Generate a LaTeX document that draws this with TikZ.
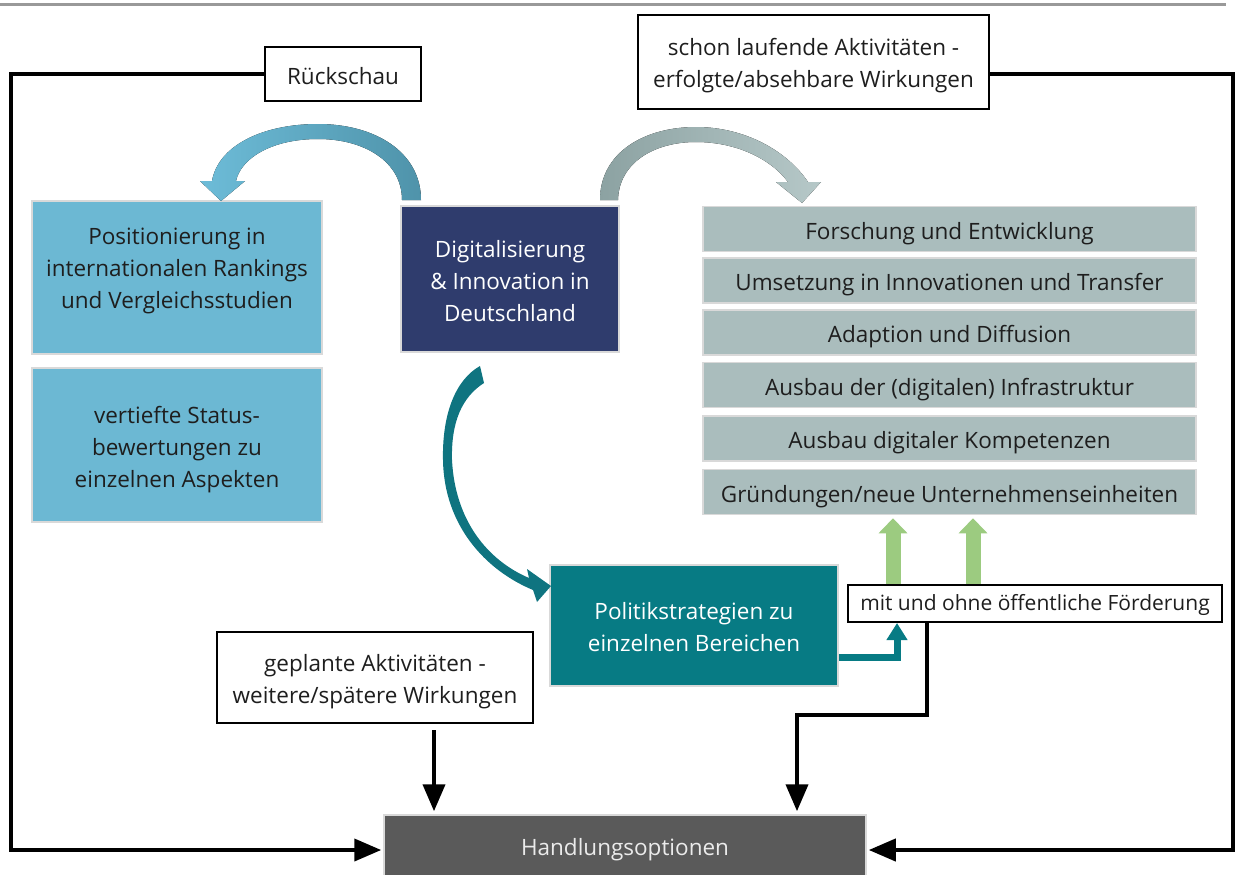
\documentclass[tikz,border=0pt]{standalone}
\usepackage{fontspec}
\setmainfont{Open Sans}
\usetikzlibrary{arrows.meta,calc}

\definecolor{rankblue}{HTML}{6CB8D3}
\definecolor{bandlight}{HTML}{6DBCD8}
\definecolor{banddark}{HTML}{4F93AA}
\definecolor{navy}{HTML}{2F3C6D}
\definecolor{sage}{HTML}{AABDBD}
\definecolor{sagedark}{HTML}{8CA2A2}
\definecolor{sagelight}{HTML}{B6C8C8}
\definecolor{petrol}{HTML}{077B84}
\definecolor{petrolarrow}{HTML}{0F7480}
\definecolor{leafgreen}{HTML}{9CCB80}
\definecolor{slate}{HTML}{5A5A5A}
\definecolor{inkgray}{HTML}{1E1E1E}

% a tall invisible strut for the first text line, to push a text block down
\newcommand{\topstrut}[1]{\rule{0pt}{#1}}

\tikzset{
  txt/.style={font=\fontsize{22.5}{32}\selectfont},
  % taller strut pushes single-line text down a little
  sink/.style={execute at begin node={\rule{0pt}{#1}}},
  % deeper last-line strut pulls the text block up a little
  rise/.style={execute at end node={\rule[-#1]{0pt}{#1}}},
  labelbox/.style={txt, draw=black, line width=2pt, fill=white, inner sep=0pt,
    align=center, text=inkgray},
  panel/.style={txt, inner sep=0pt, align=center, draw=black!15, line width=1.5pt},
  lightpanel/.style={panel, fill=rankblue, text=inkgray,
    minimum width=290pt, minimum height=153pt},
  stage/.style={panel, fill=sage, text=inkgray, sink=26pt,
    minimum width=493pt, minimum height=45pt},
  flow/.style={line width=4pt, -{Triangle[length=27pt,width=22pt]}},
  lift/.style={leafgreen, line width=15pt, -{Triangle[length=15pt,width=28pt]}},
  feed/.style={petrol, line width=7pt, -{Triangle[length=17pt,width=20pt]}},
}

\begin{document}
\begin{tikzpicture}[x=1pt,y=-1pt]
\useasboundingbox (0,0) rectangle (1239,875);
\clip (0,0) rectangle (1239,875);

% header rule
\draw[black!40, line width=3pt] (0,5) -- (1226,5);

% label boxes
\node[labelbox, sink=21pt, minimum width=156pt, minimum height=54pt] (rueck) at (343,74) {Rückschau};
\node[labelbox, minimum width=351pt, minimum height=94pt] (schon) at (813.5,62)
  {\topstrut{25pt}schon laufende Aktivitäten -\\erfolgte/absehbare Wirkungen};
\node[labelbox, minimum width=316pt, minimum height=91pt] (geplant) at (375,677.5)
  {\topstrut{25pt}geplante Aktivitäten -\\weitere/spätere Wirkungen};
\node[labelbox, sink=19pt, font=\fontsize{21}{30}\selectfont, minimum width=374pt, minimum height=37pt]
  (foerder) at (1035,603.5) {mit und ohne öffentliche Förderung};

% left column
\node[lightpanel, rise=19pt] (posit) at (177,277.5)
  {Positionierung in\\internationalen Rankings\\und Vergleichsstudien};
\node[lightpanel, minimum height=154pt] (status) at (177,445)
  {\topstrut{26pt}vertiefte Status-\\bewertungen zu\\einzelnen Aspekten};

% centre
\node[panel, fill=navy, text=white, minimum width=218pt, minimum height=146pt] (digi)
  at (510,279) {\topstrut{21pt}Digitalisierung\\\& Innovation in\\Deutschland};

% right column
\node[stage] (fue) at (949.5,229) {Forschung und Entwicklung};
\node[stage] (transfer) at (949.5,280.5) {Umsetzung in Innovationen und Transfer};
\node[stage] (diffusion) at (949.5,332.5) {Adaption und Diffusion};
\node[stage] (infra) at (949.5,385) {Ausbau der (digitalen) Infrastruktur};
\node[stage] (kompetenz) at (949.5,438.5) {Ausbau digitaler Kompetenzen};
\node[stage] (gruendung) at (949.5,492) {Gründungen/neue Unternehmenseinheiten};

% strategy and options
\node[panel, fill=petrol, text=white, minimum width=288pt, minimum height=121pt] (politik)
  at (694,625.5) {\topstrut{21pt}Politikstrategien zu\\einzelnen Bereichen};
\node[panel, fill=slate, text=black!8, minimum width=482pt, minimum height=70pt] (handl)
  at (625,850) {Handlungsoptionen};

% rails of the outer loop
\coordinate (leftrail) at (11,850);
\coordinate (rightrail) at (1233,850);

% curved arrow: Digitalisierung -> Rueckschau side
\fill[left color=bandlight, middle color=bandlight, right color=banddark]
  (402,200) .. controls (402,162) and (365,139) .. (318,139)
  .. controls (272,139) and (241,158) .. (236,181)
  -- (245,181) -- (221,201) -- (200,181) -- (212,181)
  .. controls (218,146) and (262,124) .. (318,124)
  .. controls (375,124) and (421,152) .. (421,200) -- cycle;

% curved arrow: Digitalisierung -> running activities
\fill[left color=sagedark, right color=sagelight]
  (600,200) .. controls (600,152) and (645,127) .. (696,127)
  .. controls (746,127) and (788,152) .. (808,182)
  -- (821,182) -- (802,203) -- (776,182) -- (788,182)
  .. controls (770,158) and (735,142) .. (696,142)
  .. controls (655,142) and (619,162) .. (618,200) -- cycle;

% curved arrow: Digitalisierung -> Politikstrategien
\fill[petrolarrow]
  (480,366) .. controls (455,380) and (442,415) .. (443,460)
  .. controls (444,525) and (485,570) .. (533,590)
  -- (537,602) -- (551,586) -- (527,569) -- (529,578)
  .. controls (487,560) and (455,520) .. (452,460)
  .. controls (451,422) and (462,397) .. (484,383) -- cycle;

% outer loop
\draw[flow, shorten >=2pt] (rueck.west) -| (leftrail) |- (handl.west);
\draw[flow, shorten >=2pt] (schon.east |- rueck.west) -| (rightrail) |- (handl.east);

% downward arrows into options
\draw[flow, shorten >=3pt] ([xshift=59pt,yshift=-6pt]geplant.south)
  -- ([xshift=59pt]geplant.south |- handl.north);
\draw[flow, shorten >=3pt] ([xshift=-108pt]foerder.south) -- ++(0,92)
  -| ([xshift=172pt]handl.north);

% funding arrows
\draw[lift, shorten >=3pt] ([xshift=-142pt]foerder.north) -- ([xshift=-142pt]foerder.north |- gruendung.south);
\draw[lift, shorten >=3pt] ([xshift=-62pt]foerder.north) -- ([xshift=-62pt]foerder.north |- gruendung.south);

% strategy feeding the funding box
\draw[feed] ([yshift=-31.5pt]politik.east) -| ([xshift=-138pt]foerder.south);
\end{tikzpicture}
\end{document}
